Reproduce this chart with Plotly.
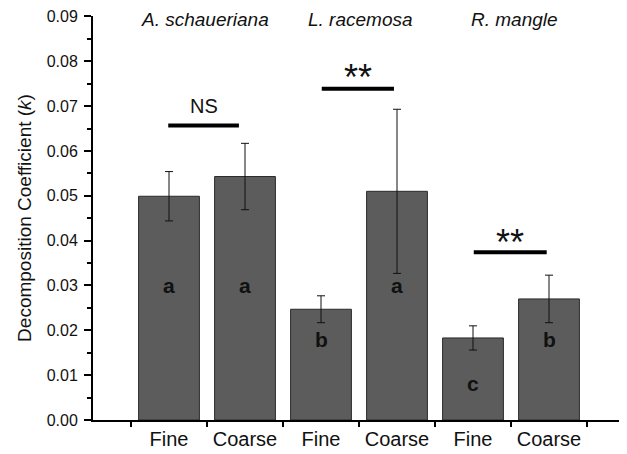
import plotly.graph_objects as go

categories = ["Fine", "Coarse", "Fine", "Coarse", "Fine", "Coarse"]
positions = [1, 2, 3, 4, 5, 6]
k_values = [0.0499, 0.0543, 0.0247, 0.0510, 0.0183, 0.0270]
k_errors = [0.0055, 0.0074, 0.0030, 0.0183, 0.0027, 0.0053]
letters = ["a", "a", "b", "a", "c", "b"]
letter_y = [0.0296, 0.0296, 0.0174, 0.0296, 0.0076, 0.0175]
species = ["A. schaueriana", "L. racemosa", "R. mangle"]
species_x = [1.48, 3.52, 5.54]
sig_labels = ["NS", "**", "**"]
sig_x0 = [0.99, 3.01, 5.01]
sig_x1 = [1.92, 3.96, 5.97]
sig_y = [0.0657, 0.0739, 0.0374]
y_tickvals = [0.00, 0.01, 0.02, 0.03, 0.04, 0.05, 0.06, 0.07, 0.08, 0.09]
y_ticktext = ["0.00", "0.01", "0.02", "0.03", "0.04", "0.05", "0.06", "0.07", "0.08", "0.09"]

FONT = "Arial, Liberation Sans, sans-serif"

fig = go.Figure()
fig.add_trace(go.Bar(
    x=positions, y=k_values, width=0.8,
    marker=dict(color="#5c5c5c", line=dict(color="#2a2a2a", width=1)),
    error_y=dict(type="data", array=k_errors, visible=True,
                 color="#111111", thickness=1, width=4),
    showlegend=False,
))

for x, y, t in zip(positions, letter_y, letters):
    fig.add_annotation(x=x, y=y, text=f"<b>{t}</b>", showarrow=False, yshift=2,
                       font=dict(family=FONT, size=21, color="#111111"))

ast_shift = [19, 11, 10]
for x0, x1, y, t, sh in zip(sig_x0, sig_x1, sig_y, sig_labels, ast_shift):
    fig.add_shape(type="line", x0=x0, x1=x1, y0=y, y1=y,
                  line=dict(color="black", width=4))
    fig.add_annotation(x=(x0 + x1) / 2, y=y, yshift=sh, text=t, showarrow=False,
                       font=dict(family=FONT, size=20 if t == "NS" else 36,
                                 color="#111111"))

for x, s in zip(species_x, species):
    fig.add_annotation(x=x, y=0.09, yanchor="middle", yshift=-3, text=f"<i>{s}</i>",
                       showarrow=False,
                       font=dict(family=FONT, size=19, color="#111111"))

# the page body has an 8px margin, so the figure is sized/offset to compensate
fig.update_layout(
    width=619, height=446,
    margin=dict(l=85, r=2, t=8, b=34),
    plot_bgcolor="white", paper_bgcolor="white",
    font=dict(family=FONT, color="#111111"),
    bargap=0.2,
)
fig.update_xaxes(
    range=[0, 7], tickvals=positions, ticktext=categories, ticks="",
    tickfont=dict(size=20, family=FONT, color="#111111"),
    showline=True, linecolor="black", linewidth=2, showgrid=False, zeroline=False,
    automargin=False,
    minor=dict(tickvals=[0.5, 1.5, 2.5, 3.5, 4.5, 5.5, 6.5], ticks="outside",
               ticklen=5, tickwidth=2, tickcolor="black"),
)
fig.update_yaxes(
    range=[0, 0.0901], tickvals=y_tickvals, ticktext=y_ticktext,
    ticks="outside", ticklen=7, tickwidth=2, tickcolor="black",
    ticklabelstandoff=3,
    tickfont=dict(size=16, family=FONT, color="#111111"),
    showline=True, linecolor="black", linewidth=2, showgrid=False, zeroline=False,
    automargin=False,
    minor=dict(tickvals=[0.005, 0.015, 0.025, 0.035, 0.045, 0.055, 0.065, 0.075, 0.085],
               ticks="outside", ticklen=4, tickwidth=1.5, tickcolor="black"),
    title=dict(text="Decomposition Coefficient (<i>k</i>)",
               font=dict(size=19, family=FONT, color="#111111"), standoff=10),
)

fig.write_html("out.html")
